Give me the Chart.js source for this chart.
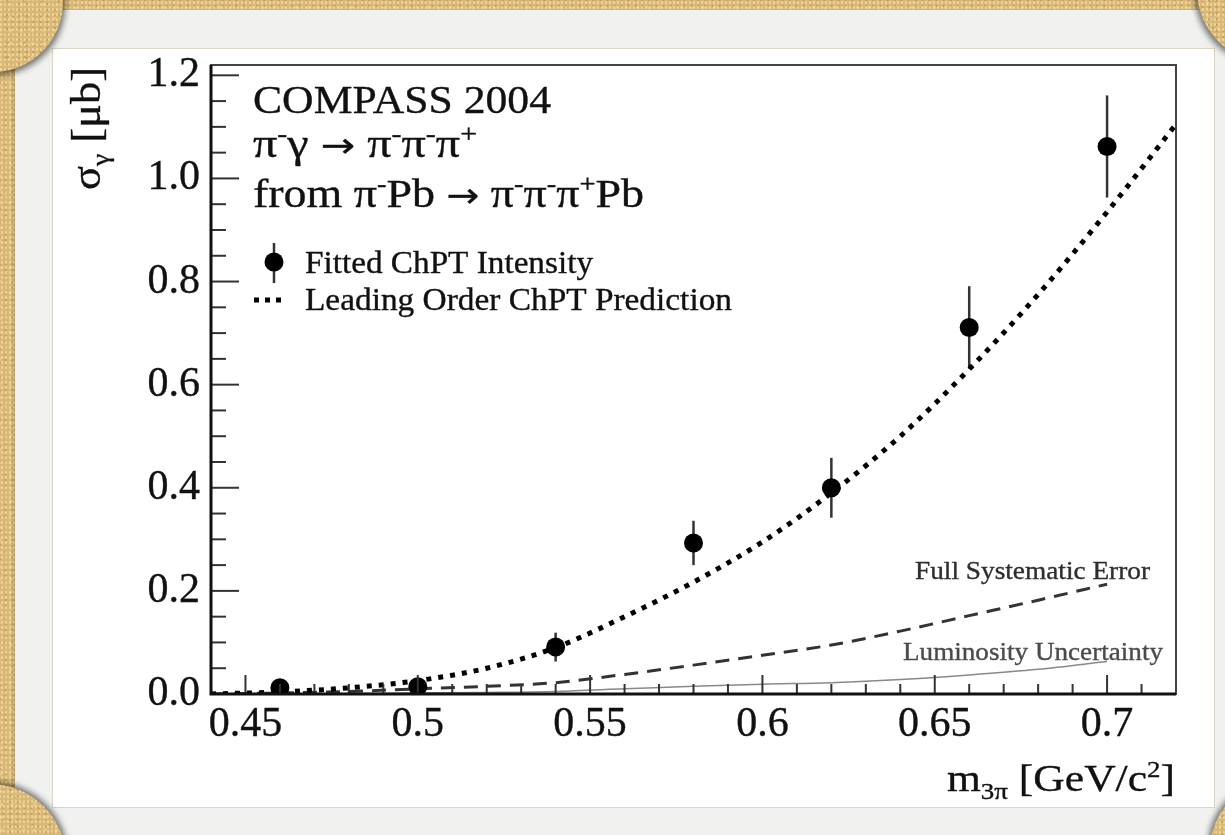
<!DOCTYPE html>
<html>
<head>
<meta charset="utf-8">
<script src="https://cdn.jsdelivr.net/npm/chart.js@4.4.1/dist/chart.umd.min.js"></script>
<style>
    html, body { margin: 0; padding: 0; }
    body, .corner {
        background-color: #d9b877;
        background-image:
            radial-gradient(rgba(245, 225, 170, .7) 0.8px, transparent 1.4px),
            radial-gradient(rgba(150, 105, 40, .35) 0.8px, transparent 1.5px),
            radial-gradient(rgba(240, 215, 150, .6) 1px, transparent 2px),
            radial-gradient(rgba(170, 125, 55, .3) 1.2px, transparent 2.2px);
        background-size: 4px 5px, 7px 6px, 11px 13px, 17px 14px;
        background-position: 0 0, 2px 3px, 5px 1px, 8px 6px;
    }
    body { width: 1225px; height: 835px; overflow: hidden; position: relative; }
    .card {
        position: absolute; left: 15px; top: 10px; width: 1230px; height: 840px;
        background: #f1f1ef; box-shadow: -1px 1px 3px rgba(0, 0, 0, .25);
    }
    .sheet {
        position: absolute; left: 52px; top: 48px; width: 1161px; height: 758px;
        background: #fff; border: 1px solid #dcd4c4;
    }
    .corner { position: absolute; border-radius: 50%; }
    canvas { position: absolute; left: 0; top: 0; }
</style>
</head>
<body>
<div class="card"></div>
<div class="sheet"></div>
<div class="corner" style="left:-77px; top:-68px; width:140px; height:140px; box-shadow: 2px 3px 6px rgba(0,0,0,.55);"></div>
<div class="corner" style="left:1197px; top:-83px; width:146px; height:146px; box-shadow: -2px 3px 6px rgba(0,0,0,.55);"></div>
<div class="corner" style="left:-86px; top:784px; width:152px; height:152px; box-shadow: 2px -2px 6px rgba(0,0,0,.55);"></div>
<div class="corner" style="left:1210px; top:780px; width:140px; height:140px; box-shadow: -2px -2px 6px rgba(0,0,0,.55);"></div>
<canvas id="sigmaChart" width="1225" height="835"></canvas>
<script>
// Data
const pointMass = [0.46, 0.50, 0.54, 0.58, 0.62, 0.66, 0.70];
const pointSigma = [0.012, 0.014, 0.091, 0.293, 0.400, 0.711, 1.062];
const pointErr = [0.006, 0.006, 0.028, 0.043, 0.058, 0.080, 0.099];

// Leading order ChPT prediction (dotted)
const predMass = [0.44, 0.46, 0.48, 0.50, 0.52, 0.54, 0.56, 0.58, 0.60, 0.62, 0.64, 0.66, 0.68, 0.70, 0.72];
const predSigma = [0.000, 0.004, 0.012, 0.026, 0.050, 0.090, 0.150, 0.217, 0.295, 0.390, 0.500, 0.630, 0.775, 0.935, 1.105];

// Systematic bands (dashed and thin solid)
const sysMass = [0.44, 0.46, 0.48, 0.50, 0.52, 0.54, 0.56, 0.58, 0.60, 0.62, 0.64, 0.66, 0.68, 0.70];
const sysFull = [0.000, 0.002, 0.005, 0.010, 0.015, 0.022, 0.038, 0.056, 0.075, 0.095, 0.122, 0.152, 0.182, 0.213];
const sysLumi = [0.000, 0.0005, 0.001, 0.002, 0.003, 0.005, 0.010, 0.015, 0.019, 0.022, 0.028, 0.037, 0.048, 0.063];

const xRange = [0.44, 0.72];
const yRange = [0, 1.22];

const SERIF = "'Liberation Serif', 'Times New Roman', serif";
const ARROW_FONT = "'DejaVu Sans', sans-serif";

function toXY(xs, ys) {
    return xs.map((x, i) => ({ x: x, y: ys[i] }));
}

// draws a line of text made of normal / sup / sub / arrow parts, optionally squeezed to a width
function drawParts(c, parts, x, y, size, o = {}) {
    const pieces = parts.map(p => {
        const t = typeof p === 'string' ? p : p[0];
        const kind = typeof p === 'string' ? 'n' : p[1];
        let fs = size, fam = SERIF;
        if (kind === 'sup' || kind === 'sub') fs = size * 0.62;
        if (kind === 'arrow') { fs = size * 0.85; fam = ARROW_FONT; }
        const font = fs + 'px ' + fam;
        c.font = font;
        return {
            t: t, font: font,
            dy: kind === 'sup' ? -size * 0.38 : (kind === 'sub' ? size * 0.22 : 0),
            w: c.measureText(t).width
        };
    });
    const natural = pieces.reduce((s, p) => s + p.w, 0);
    const sx = o.width ? o.width / natural : 1;
    c.save();
    c.translate(x, y);
    if (o.rotate) c.rotate(o.rotate);
    c.scale(sx, 1);
    c.fillStyle = o.color || '#111';
    c.strokeStyle = o.color || '#111';
    c.lineWidth = 0.35;
    c.textBaseline = 'alphabetic';
    c.textAlign = 'left';
    let cx = o.align === 'right' ? -natural : 0;
    pieces.forEach(p => {
        c.font = p.font;
        c.fillText(p.t, cx, p.dy);
        c.strokeText(p.t, cx, p.dy);
        cx += p.w;
    });
    c.restore();
}

// error bars under the markers
const errorBars = {
    id: 'errorBars',
    beforeDatasetsDraw(chart) {
        const c = chart.ctx, xs = chart.scales.x, ys = chart.scales.y;
        c.save();
        c.strokeStyle = '#333';
        c.lineWidth = 2.5;
        pointMass.forEach((m, i) => {
            const px = xs.getPixelForValue(m);
            c.beginPath();
            c.moveTo(px, ys.getPixelForValue(pointSigma[i] - pointErr[i]));
            c.lineTo(px, ys.getPixelForValue(pointSigma[i] + pointErr[i]));
            c.stroke();
        });
        c.restore();
    }
};

// frame, inward ticks, texts and legend
const frameAndText = {
    id: 'frameAndText',
    afterDraw(chart) {
        const c = chart.ctx, a = chart.chartArea;
        const xs = chart.scales.x, ys = chart.scales.y;
        c.save();

        // ticks
        c.strokeStyle = '#333';
        c.lineWidth = 2;
        for (let i = 0; i <= 24; i++) {
            const py = ys.getPixelForValue(i * 0.05);
            if (py < a.top) continue;
            const len = i % 4 === 0 ? 28 : 15;
            c.beginPath();
            c.moveTo(a.left, py);
            c.lineTo(a.left + len, py);
            c.stroke();
        }
        for (let i = 44; i <= 72; i++) {
            const px = xs.getPixelForValue(i / 100);
            const len = i % 5 === 0 ? 19 : 10;
            c.beginPath();
            c.moveTo(px, a.bottom);
            c.lineTo(px, a.bottom - len);
            c.stroke();
        }

        // frame
        c.strokeStyle = '#444';
        c.lineWidth = 2;
        c.strokeRect(a.left, a.top, a.right - a.left, a.bottom - a.top);
        c.strokeStyle = '#111';
        c.lineWidth = 3;
        c.beginPath();
        c.moveTo(a.left, a.top);
        c.lineTo(a.left, a.bottom);
        c.lineTo(a.right, a.bottom);
        c.stroke();

        // header text
        drawParts(c, ['COMPASS 2004'], 253, 113, 40, { width: 298 });
        drawParts(c, ['π', ['-', 'sup'], 'γ ', ['→', 'arrow'], ' π', ['-', 'sup'], 'π', ['-', 'sup'], 'π', ['+', 'sup']],
            253, 157, 40, { width: 224 });
        drawParts(c, ['from π', ['-', 'sup'], 'Pb ', ['→', 'arrow'], ' π', ['-', 'sup'], 'π', ['-', 'sup'], 'π', ['+', 'sup'], 'Pb'],
            253, 207, 40, { width: 391 });

        // legend
        c.strokeStyle = '#333';
        c.lineWidth = 2.5;
        c.beginPath();
        c.moveTo(274, 243);
        c.lineTo(274, 283);
        c.stroke();
        c.fillStyle = '#000';
        c.beginPath();
        c.arc(274, 262, 9.5, 0, Math.PI * 2);
        c.fill();
        c.strokeStyle = '#000';
        c.lineWidth = 5;
        c.setLineDash([5, 6]);
        c.beginPath();
        c.moveTo(254, 300);
        c.lineTo(284, 300);
        c.stroke();
        c.setLineDash([]);
        drawParts(c, ['Fitted ChPT Intensity'], 305, 273, 31, { width: 288 });
        drawParts(c, ['Leading Order ChPT Prediction'], 305, 310, 31, { width: 427 });

        // curve labels
        drawParts(c, ['Full Systematic Error'], 915, 579, 25, { width: 235, color: '#2e2e2e' });
        drawParts(c, ['Luminosity Uncertainty'], 903, 660, 25, { width: 260, color: '#4a4a4a' });

        // axis titles
        drawParts(c, ['m', ['3π', 'sub'], ' [GeV/c', ['2', 'sup'], ']'], 1175, 791, 38,
            { width: 228, align: 'right' });
        drawParts(c, ['σ', ['γ', 'sub'], ' [μb]'], 100, 190, 42, { width: 123, rotate: -Math.PI / 2 });

        c.restore();
    }
};

const tickFont = { family: SERIF, size: 42 };

new Chart(document.getElementById('sigmaChart'), {
    type: 'scatter',
    data: {
        datasets: [
            {
                label: 'Fitted ChPT Intensity',
                data: toXY(pointMass, pointSigma),
                showLine: false,
                pointRadius: 9.5,
                pointBackgroundColor: '#000',
                pointBorderWidth: 0
            },
            {
                label: 'Leading Order ChPT Prediction',
                data: toXY(predMass, predSigma),
                showLine: true,
                pointRadius: 0,
                borderColor: '#000',
                borderWidth: 5,
                borderDash: [5, 7],
                cubicInterpolationMode: 'monotone'
            },
            {
                label: 'Full Systematic Error',
                data: toXY(sysMass, sysFull),
                showLine: true,
                pointRadius: 0,
                borderColor: '#333',
                borderWidth: 3,
                borderDash: [14, 9],
                cubicInterpolationMode: 'monotone'
            },
            {
                label: 'Luminosity Uncertainty',
                data: toXY(sysMass, sysLumi),
                showLine: true,
                pointRadius: 0,
                borderColor: '#888',
                borderWidth: 1.5,
                cubicInterpolationMode: 'monotone'
            }
        ]
    },
    options: {
        responsive: false,
        animation: false,
        devicePixelRatio: 1,
        layout: { padding: { left: 0, top: 65, right: 49, bottom: 0 } },
        plugins: {
            legend: { display: false },
            tooltip: { enabled: false }
        },
        scales: {
            x: {
                type: 'linear',
                min: xRange[0],
                max: xRange[1],
                grid: { display: false, drawTicks: false },
                border: { display: false },
                ticks: {
                    stepSize: 0.05,
                    includeBounds: false,
                    autoSkip: false,
                    maxRotation: 0,
                    padding: 6,
                    color: '#111',
                    textStrokeColor: '#111',
                    textStrokeWidth: 0.35,
                    font: tickFont,
                    callback: v => String(+v.toFixed(2))
                },
                afterFit: s => { s.height = 141; }
            },
            y: {
                type: 'linear',
                min: yRange[0],
                max: yRange[1],
                grid: { display: false, drawTicks: false },
                border: { display: false },
                ticks: {
                    stepSize: 0.2,
                    includeBounds: false,
                    autoSkip: false,
                    padding: 11,
                    color: '#111',
                    textStrokeColor: '#111',
                    textStrokeWidth: 0.35,
                    font: tickFont,
                    callback: v => v.toFixed(1)
                },
                afterFit: s => { s.width = 211; }
            }
        }
    },
    plugins: [errorBars, frameAndText]
});
</script>
</body>
</html>
